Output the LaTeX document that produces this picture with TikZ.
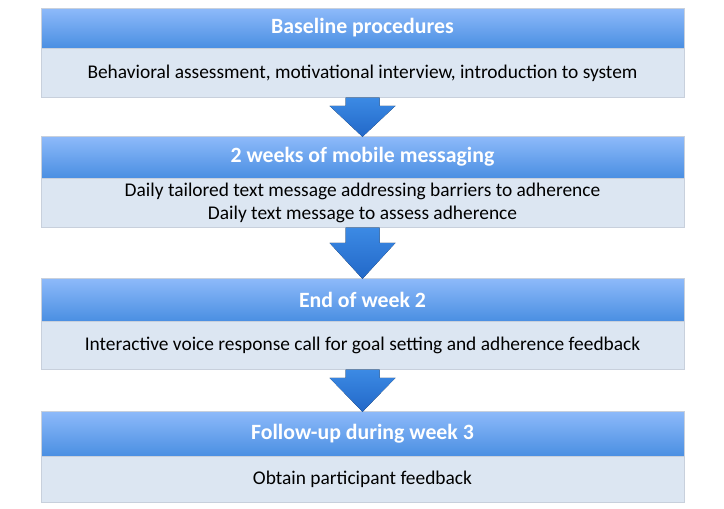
\documentclass[tikz,border=0pt]{standalone}
\usepackage{fontspec}
\setmainfont{Carlito}
\usetikzlibrary{calc}
\definecolor{headtop}{RGB}{142,186,250}
\definecolor{headbot}{RGB}{74,143,226}
\definecolor{bodyfill}{RGB}{220,230,242}
\definecolor{edgegray}{RGB}{200,208,220}
\definecolor{arrowtop}{RGB}{60,138,228}
\definecolor{arrowbot}{RGB}{34,104,200}
\tikzset{
  headbox/.style={draw=edgegray, top color=headtop, bottom color=headbot,
    minimum width=643pt, inner sep=0pt, text=white,
    font=\fontsize{21.8}{24}\selectfont\bfseries},
  bodybox/.style={draw=edgegray, fill=bodyfill, minimum width=643pt,
    inner sep=0pt, align=center, font=\fontsize{19.4}{23}\selectfont},
  blockarrow/.style={top color=arrowtop, bottom color=arrowbot, draw=none}
}
\begin{document}
\begin{tikzpicture}[x=1pt,y=-1pt]
\useasboundingbox (0,0) rectangle (724,509);
%boxes
\node[headbox, minimum height=40pt] (head1) at (362.5,28) {Baseline procedures};
\node[bodybox, minimum height=49pt, anchor=north] (body1) at (head1.south) {Behavioral assessment, motivational interview, introduction to system};
\node[headbox, minimum height=42pt] (head2) at (362.5,157) {2 weeks of mobile messaging};
\node[bodybox, minimum height=49pt, anchor=north] (body2) at (head2.south) {Daily tailored text message addressing barriers to adherence\\Daily text message to assess adherence};
\node[headbox, minimum height=43pt] (head3) at (362.5,299.5) {End of week 2};
\node[bodybox, minimum height=48pt, anchor=north] (body3) at (head3.south) {Interactive voice response call for goal setting and adherence feedback};
\node[headbox, minimum height=45pt] (head4) at (362.5,433.5) {Follow-up during week 3};
\node[bodybox, minimum height=46pt, anchor=north] (body4) at (head4.south) {Obtain participant feedback};
%arrows
\foreach \a/\b/\h in {body1/head2/30,body2/head3/35,body3/head4/33}{
\fill[blockarrow] ($(\a.south)+(-17,0)$) -- ($(\b.north)+(-17,-\h)$) -- ($(\b.north)+(-33,-\h)$)
  -- ($(\b.north)+(0,1)$) -- ($(\b.north)+(33,-\h)$) -- ($(\b.north)+(17,-\h)$) -- ($(\a.south)+(17,0)$) -- cycle;
}
\end{tikzpicture}
\end{document}
